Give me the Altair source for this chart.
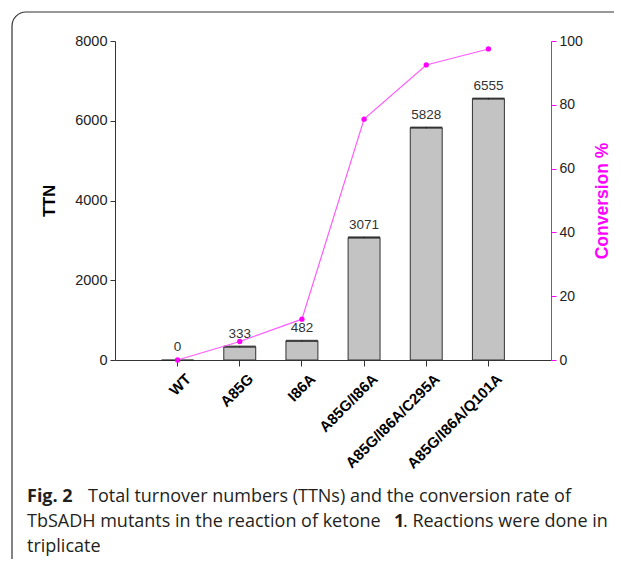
import altair as alt
import pandas as pd

# ---- data ----
categories = ["WT", "A85G", "I86A", "A85G/I86A", "A85G/I86A/C295A", "A85G/I86A/Q101A"]
ttn = [0, 333, 482, 3071, 5828, 6555]
ttn_err = [0, 15, 15, 18, 18, 18]
conversion = [0, 5.8, 12.8, 75.5, 92.5, 97.5]
left_ticks = [0, 2000, 4000, 6000, 8000]
right_ticks = [0, 20, 40, 60, 80, 100]

cap1_bold = "Fig. 2"
cap1 = "Total turnover numbers (TTNs) and the conversion rate of"
cap2a = "TbSADH mutants in the reaction of ketone"
cap2b = "1"
cap2c = ". Reactions were done in"
cap3 = "triplicate"

df = pd.DataFrame({
    "mutant": categories,
    "ttn": ttn,
    "lo": [v - e for v, e in zip(ttn, ttn_err)],
    "hi": [v + e for v, e in zip(ttn, ttn_err)],
    "conv": conversion,
    "label": [str(v) for v in ttn],
})
one = pd.DataFrame({"a": [0]})

W, H = 436, 319
MAG = "#ff00ff"
AX = "Liberation Sans"

x_axis = alt.Axis(title=None, labelAngle=-45, labelFont=AX, labelFontWeight="bold",
                  labelFontSize=15, labelColor="black", domainColor="#333",
                  tickColor="#333", tickSize=6, labelPadding=5, labelOffset=6)
x_enc = alt.X("mutant:N", sort=categories,
              scale=alt.Scale(paddingInner=0.486, paddingOuter=0.75), axis=x_axis)

left_scale = alt.Scale(domain=[0, 8000], nice=False)
left_axis = alt.Axis(orient="left", title="TTN", values=left_ticks, grid=False, format="d",
                     labelFont=AX, labelFontSize=14.5, labelColor="#222",
                     domainColor="#333", tickColor="#333", tickSize=5, labelPadding=3,
                     titleFont=AX, titleFontSize=16.5, titleFontWeight="bold",
                     titleColor="black", titlePadding=17)

base = alt.Chart(df)
bars = base.mark_bar(fill="#c3c3c3", stroke="#333", strokeWidth=1).encode(
    x=x_enc, y=alt.Y("ttn:Q", scale=left_scale, axis=left_axis),
    strokeOpacity=alt.condition(alt.datum.ttn > 0, alt.value(1), alt.value(0)))
err = base.mark_errorbar(ticks=True, color="#222").encode(
    x=x_enc, y=alt.Y("lo:Q", scale=left_scale, axis=left_axis), y2="hi:Q")
labels = base.mark_text(baseline="bottom", dy=-6, font=AX, fontSize=13.5, color="#333").encode(
    x=x_enc, y=alt.Y("ttn:Q", scale=left_scale, axis=left_axis), text="label:N")
left_group = alt.layer(bars, err, labels)

right_scale = alt.Scale(domain=[0, 100], nice=False)
right_axis = alt.Axis(orient="right", title="Conversion %", values=right_ticks, grid=False,
                      labelFont=AX, labelFontSize=14, labelColor="#222",
                      domainColor=MAG, tickColor=MAG, tickSize=5, labelPadding=3,
                      titleFont=AX, titleFontSize=17.5, titleFontWeight="bold",
                      titleColor=MAG, titleAngle=270, titlePadding=29)
line = base.mark_line(color="#ff5cff", strokeWidth=1.2).encode(
    x=x_enc, y=alt.Y("conv:Q", scale=right_scale, axis=right_axis))
pts = base.mark_point(filled=True, color=MAG, size=28, opacity=1).encode(
    x=x_enc, y=alt.Y("conv:Q", scale=right_scale, axis=right_axis))
right_group = alt.layer(line, pts)

border = alt.Chart(one).mark_rect(fillOpacity=0, stroke="#333", strokeWidth=1.2,
                                  cornerRadius=14).encode(
    x=alt.value(-103), x2=alt.value(540), y=alt.value(-29), y2=alt.value(560))

CF = "Open Sans"
CS = 18
CC = "#231f20"
def cap(text, x, y, bold=False):
    return alt.Chart(one).mark_text(align="left", baseline="middle", font=CF, fontSize=CS,
                                    color=CC, fontWeight="bold" if bold else "normal").encode(
        x=alt.value(x), y=alt.value(y), text=alt.value(text))

captions = alt.layer(
    cap(cap1_bold, -88, 456, True),
    cap(cap1, -27, 456),
    cap(cap2a, -88, 481),
    cap(cap2b, 279, 481, True),
    cap(cap2c, 288, 481),
    cap(cap3, -88, 506),
)

chart = alt.layer(border, left_group, right_group, captions).resolve_scale(
    y="independent"
).properties(
    width=W, height=H,
    autosize=alt.AutoSizeParams(type="none"),
    padding={"left": 107, "top": 33, "right": 63, "bottom": 199},
).configure_view(stroke=None)

chart.save("out.html", embed_options={"renderer": "svg", "actions": False})
